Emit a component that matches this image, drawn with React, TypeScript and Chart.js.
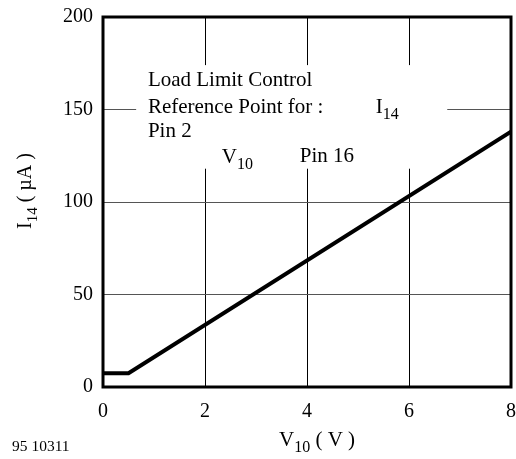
import React, { useEffect, useRef } from "react";
import { Chart, registerables } from "chart.js";

Chart.register(...registerables);

const voltage = [0, 0.5, 8];
const current = [7.5, 7.5, 138];
const xTicks = [0, 2, 4, 6, 8];
const yTicks = [0, 50, 100, 150, 200];

const FONT = "Liberation Serif";

type Part = { t: string; sub?: boolean };

function drawRich(ctx: CanvasRenderingContext2D, parts: Part[], x: number, y: number, size: number, align: "left" | "center") {
  const subSize = Math.round(size * 0.75);
  let total = 0;
  const widths = parts.map((p) => {
    ctx.font = `${p.sub ? subSize : size}px "${FONT}"`;
    const w = ctx.measureText(p.t).width;
    total += w;
    return w;
  });
  let cx = align === "center" ? x - total / 2 : x;
  ctx.textAlign = "left";
  ctx.textBaseline = "alphabetic";
  parts.forEach((p, i) => {
    ctx.font = `${p.sub ? subSize : size}px "${FONT}"`;
    ctx.fillText(p.t, cx, y + (p.sub ? size * 0.3 : 0));
    cx += widths[i];
  });
}

const annotPlugin = {
  id: "annot",
  beforeDatasetsDraw(chart: any) {
    const { ctx, scales } = chart;
    const x = scales.x, y = scales.y;
    ctx.save();
    ctx.fillStyle = "#fff";
    const x0 = x.getPixelForValue(0.65), x1 = x.getPixelForValue(6.75);
    const y0 = y.getPixelForValue(174), y1 = y.getPixelForValue(118);
    ctx.fillRect(x0, y0, x1 - x0, y1 - y0);
    ctx.restore();
  },
  afterDatasetsDraw(chart: any) {
    const { ctx, scales, chartArea } = chart;
    const x = scales.x, y = scales.y;
    ctx.save();
    ctx.strokeStyle = "#000";
    ctx.lineWidth = 3;
    ctx.strokeRect(chartArea.left, chartArea.top, chartArea.right - chartArea.left, chartArea.bottom - chartArea.top);
    ctx.fillStyle = "#000";
    const S = 21;
    const base = (v: number) => y.getPixelForValue(v) + S * 0.35;
    drawRich(ctx, [{ t: "Load Limit Control" }], x.getPixelForValue(0.88), base(166.5), S, "left");
    drawRich(ctx, [{ t: "Reference Point for :" }], x.getPixelForValue(0.88), base(152), S, "left");
    drawRich(ctx, [{ t: "Pin 2" }], x.getPixelForValue(0.88), base(139), S, "left");
    drawRich(ctx, [{ t: "I" }, { t: "14", sub: true }], x.getPixelForValue(5.35), base(152), S, "left");
    drawRich(ctx, [{ t: "V" }, { t: "10", sub: true }], x.getPixelForValue(2.33), base(125), S, "left");
    drawRich(ctx, [{ t: "Pin 16" }], x.getPixelForValue(3.86), base(125.5), S, "left");
    // axis titles
    drawRich(ctx, [{ t: "V" }, { t: "10", sub: true }, { t: " ( V )" }], 317, 446, 21, "center");
    ctx.save();
    ctx.translate(31, 191);
    ctx.rotate(-Math.PI / 2);
    drawRich(ctx, [{ t: "I" }, { t: "14", sub: true }, { t: " ( µA )" }], 0, 0, 20, "center");
    ctx.restore();
    ctx.font = `15.5px "${FONT}"`;
    ctx.textAlign = "left";
    ctx.textBaseline = "middle";
    ctx.fillText("95 10311", 12, 447);
    ctx.restore();
  },
};

export default function App() {
  const ref = useRef<HTMLCanvasElement>(null);
  useEffect(() => {
    if (!ref.current) return;
    const chart = new Chart(ref.current, {
      type: "line",
      data: {
        datasets: [
          {
            data: voltage.map((v, i) => ({ x: v, y: current[i] })),
            borderColor: "#000",
            borderWidth: 4,
            pointRadius: 0,
            tension: 0,
            fill: false,
          },
        ],
      },
      options: {
        responsive: false,
        animation: false,
        layout: { padding: { top: 17, right: 5, left: 0, bottom: 0 } },
        plugins: { legend: { display: false }, tooltip: { enabled: false } },
        scales: {
          x: {
            type: "linear",
            min: 0,
            max: 8,
            afterBuildTicks: (s: any) => { s.ticks = xTicks.map((v) => ({ value: v })); },
            afterFit: (s: any) => { s.height = 72; s.paddingLeft = 0; s.paddingRight = 0; },
            grid: { color: "#000", lineWidth: 1, drawTicks: false },
            border: { display: false },
            ticks: { color: "#000", padding: 13, font: { family: FONT, size: 20 }, maxRotation: 0 },
          },
          y: {
            type: "linear",
            min: 0,
            max: 200,
            afterBuildTicks: (s: any) => { s.ticks = yTicks.map((v) => ({ value: v })); },
            afterFit: (s: any) => { s.width = 103; s.paddingTop = 0; s.paddingBottom = 0; },
            grid: { color: "#555", lineWidth: 1, drawTicks: false },
            border: { display: false },
            ticks: { color: "#000", padding: 10, font: { family: FONT, size: 20 } },
          },
        },
      },
      plugins: [annotPlugin],
    });
    return () => chart.destroy();
  }, []);
  return (
    <div style={{ position: "absolute", left: 0, top: 0, width: 516, height: 459, background: "#fff" }}>
      <canvas ref={ref} width={516} height={459} />
    </div>
  );
}
